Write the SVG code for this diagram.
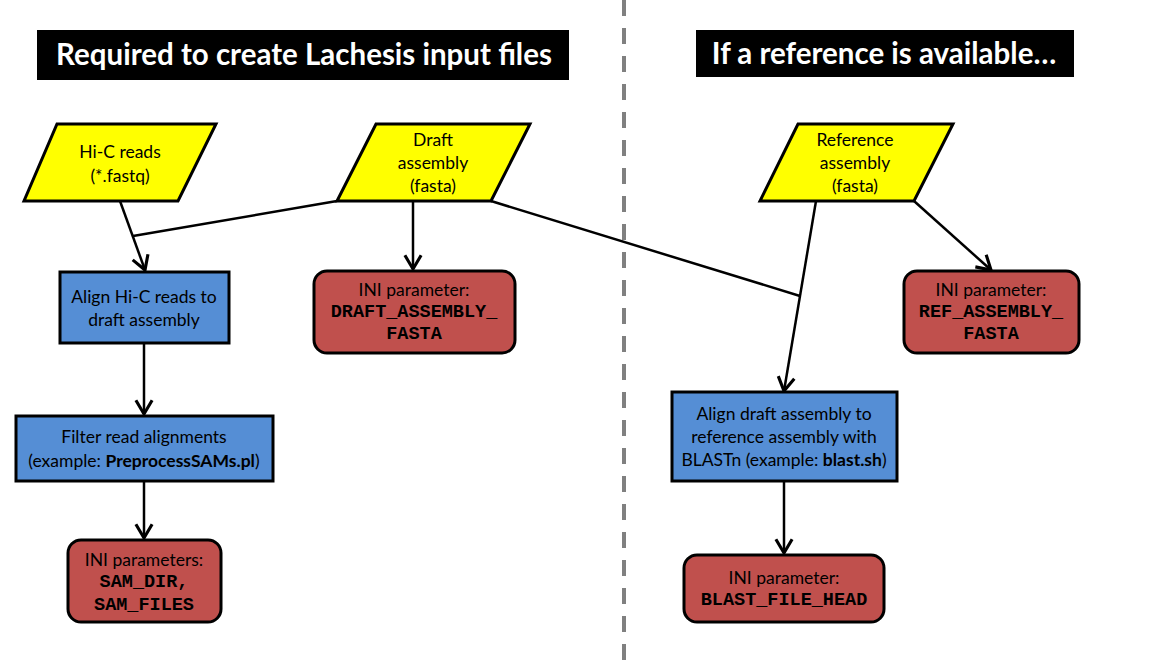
<svg xmlns="http://www.w3.org/2000/svg" width="1152" height="672" viewBox="0 0 1152 672">
<style>
.t{font-family:Lato,"Open Sans",sans-serif;font-size:17.5px;fill:#000;text-anchor:middle}
.m{font-family:"Liberation Mono","Courier New",monospace;font-size:18.5px;font-weight:bold;fill:#000;text-anchor:middle}
.h{font-family:Lato,"Open Sans",sans-serif;font-size:29.5px;font-weight:bold;fill:#fff;text-anchor:middle}
.in{fill:#FFFF00;stroke:#000;stroke-width:3;stroke-linejoin:miter}
.pr{fill:#558ED5;stroke:#000;stroke-width:3}
.ini{fill:#C0504D;stroke:#000;stroke-width:3}
.c{stroke:#000;stroke-width:2.5;fill:none}
</style>
<defs>
<marker id="ar" markerUnits="userSpaceOnUse" markerWidth="20" markerHeight="20" viewBox="-12 -8 14 16" refX="0" refY="0" orient="auto">
<path d="M-11,-6.5 L0,0 L-11,6.5" fill="none" stroke="#000" stroke-width="2.5"/>
</marker>
</defs>
<rect width="1152" height="672" fill="#fff"/>
<line x1="624" y1="0" x2="624" y2="662" stroke="#808080" stroke-width="4" stroke-dasharray="16 12"/>
<g id="title-left"><rect x="37" y="30" width="532" height="50" fill="#000"/><text class="h" x="304" y="65">Required to create Lachesis input files</text></g>
<g id="title-right"><rect x="696" y="30" width="378" height="47" fill="#000"/><text class="h" x="884" y="64">If a reference is available…</text></g>
<g id="connectors">
<path class="c" d="M120,201 L145,270" marker-end="url(#ar)"/>
<path class="c" d="M337,201 L133,236"/>
<path class="c" d="M413,201 L413,269" marker-end="url(#ar)"/>
<path class="c" d="M491,201 L800,296"/>
<path class="c" d="M816,201 L784,391" marker-end="url(#ar)"/>
<path class="c" d="M914,201 L991,270" marker-end="url(#ar)"/>
<path class="c" d="M144,343 L144,414" marker-end="url(#ar)"/>
<path class="c" d="M144,481 L144,538" marker-end="url(#ar)"/>
<path class="c" d="M784,481 L784,553" marker-end="url(#ar)"/>
</g>
<g id="hic-reads"><polygon class="in" points="57,124 216,124 178,201 24,201"/><text class="t" x="120" y="158">Hi-C reads</text><text class="t" x="120" y="182">(*.fastq)</text></g>
<g id="draft-assembly"><polygon class="in" points="376,124 530,124 491,201 337,201"/><text class="t" x="433" y="146">Draft</text><text class="t" x="433" y="169">assembly</text><text class="t" x="433" y="192">(fasta)</text></g>
<g id="reference-assembly"><polygon class="in" points="798,124 953,124 914,201 760,201"/><text class="t" x="855" y="146">Reference</text><text class="t" x="855" y="169">assembly</text><text class="t" x="855" y="192">(fasta)</text></g>
<g id="align-hic"><rect class="pr" x="60" y="272" width="169" height="71"/><text class="t" x="144" y="303">Align Hi-C reads to</text><text class="t" x="144" y="326">draft assembly</text></g>
<g id="ini-draft"><rect class="ini" x="314" y="271" width="201" height="82" rx="13"/><text class="t" x="414" y="296">INI parameter:</text><text class="m" x="414" y="317">DRAFT_ASSEMBLY_</text><text class="m" x="414" y="339">FASTA</text></g>
<g id="filter"><rect class="pr" x="16" y="416" width="257" height="65"/><text class="t" x="144" y="443">Filter read alignments</text><text class="t" x="144" y="467">(example: <tspan font-weight="bold">PreprocessSAMs.pl</tspan>)</text></g>
<g id="ini-sam"><rect class="ini" x="68" y="540" width="153" height="82" rx="13"/><text class="t" x="144" y="566">INI parameters:</text><text class="m" x="144" y="587">SAM_DIR,</text><text class="m" x="144" y="610">SAM_FILES</text></g>
<g id="align-draft"><rect class="pr" x="672" y="392" width="225" height="89"/><text class="t" x="784" y="420">Align draft assembly to</text><text class="t" x="784" y="443">reference assembly with</text><text class="t" x="784" y="466">BLASTn (example: <tspan font-weight="bold">blast.sh</tspan>)</text></g>
<g id="ini-blast"><rect class="ini" x="684" y="555" width="200" height="67" rx="13"/><text class="t" x="784" y="584">INI parameter:</text><text class="m" x="784" y="605">BLAST_FILE_HEAD</text></g>
<g id="ini-ref"><rect class="ini" x="904" y="271" width="175" height="82" rx="13"/><text class="t" x="991" y="296">INI parameter:</text><text class="m" x="991" y="317">REF_ASSEMBLY_</text><text class="m" x="991" y="339">FASTA</text></g>
</svg>
